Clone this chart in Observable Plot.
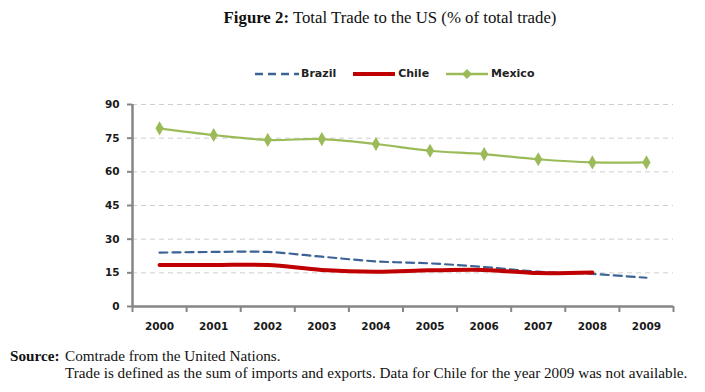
<!DOCTYPE html>
<html>
<head>
<meta charset="utf-8">
<script src="https://cdn.jsdelivr.net/npm/d3@7"></script>
<script src="https://cdn.jsdelivr.net/npm/@observablehq/plot@0.6"></script>
<style>
  html, body { margin: 0; padding: 0; background: #fff; }
  #wrap { position: relative; width: 705px; height: 392px; overflow: hidden; }
  #chart { position: absolute; left: 0; top: 0; }
  .title { position: absolute; left: 0; width: 780px; top: 8px; text-align: center;
           font-family: "Liberation Serif", "Times New Roman", serif; font-size: 16.8px; color: #111; }
  .title b { font-weight: bold; }
  .legend { position: absolute; top: 67px; left: 255px; display: flex; align-items: center;
            font-family: "DejaVu Sans", sans-serif; font-weight: bold; font-size: 11px; color: #222; }
  .legend .item { display: flex; align-items: center; margin-right: 16px; }
  .legend svg { margin-right: 2px; }
  .caption { position: absolute; left: 10px; top: 347px; font-family: "Liberation Serif", "Times New Roman", serif;
             font-size: 15.2px; color: #111; line-height: 17px; }
  .caption .row { display: flex; white-space: nowrap; }
  .caption .lab { width: 55px; font-weight: bold; }
</style>
</head>
<body>
<div id="wrap">
  <div id="chart"></div>
  <div class="title"><b>Figure 2:</b> Total Trade to the US (% of total trade)</div>
  <div class="legend" id="legend"></div>
  <div class="caption">
    <div class="row"><span class="lab">Source:</span><span>Comtrade from the United Nations.</span></div>
    <div class="row"><span class="lab"></span><span>Trade is defined as the sum of imports and exports. Data for Chile for the year 2009 was not available.</span></div>
  </div>
</div>
<script>
const years = [2000, 2001, 2002, 2003, 2004, 2005, 2006, 2007, 2008, 2009];
const brazil = [24.0, 24.3, 24.3, 22.2, 20.1, 19.2, 17.6, 15.5, 14.5, 12.8];
const chile  = [18.5, 18.5, 18.5, 16.3, 15.5, 16.1, 16.3, 14.9, 15.2, null];
const mexico = [79.4, 76.4, 74.2, 74.6, 72.4, 69.4, 67.9, 65.6, 64.2, 64.2];
const yTicks = [0, 15, 30, 45, 60, 75, 90];
const seriesNames = ["Brazil", "Chile", "Mexico"];
const colors = { Brazil: "#3b6395", Chile: "#c00000", Mexico: "#9bbb59" };

const rows = (vals) => years.map((y, i) => ({ year: y, value: vals[i] })).filter(d => d.value != null);
const brazilData = rows(brazil);
const chileData = rows(chile);
const mexicoData = rows(mexico);
const boundaries = d3.range(years[0] - 0.5, years[years.length - 1] + 1, 1);

const axisColor = "#868686";
const tickFont = { fontFamily: "DejaVu Sans, sans-serif", fontWeight: "bold", fontSize: 10.5, fill: "#1a1a1a" };

const chart = Plot.plot({
  width: 705,
  height: 392,
  marginLeft: 132,
  marginRight: 32,
  marginTop: 104,
  marginBottom: 86,
  style: { background: "transparent", overflow: "visible" },
  x: { type: "linear", domain: [years[0] - 0.5, years[years.length - 1] + 0.5], label: null },
  y: { domain: [0, 90], label: null },
  marks: [
    Plot.gridY(yTicks.filter(d => d > 0), { stroke: "#cfcfcf", strokeOpacity: 1, strokeDasharray: "5,4", strokeWidth: 1 }),
    Plot.axisY({ ticks: yTicks, tickSize: 5, tickPadding: 8, stroke: axisColor, strokeWidth: 2, tickFormat: d => String(d), label: null, ...tickFont }),
    Plot.axisX({ ticks: years, tickSize: 0, tickPadding: 16, tickFormat: d => String(d), label: null, ...tickFont }),
    Plot.axisX({ ticks: boundaries, tickSize: 6, tickFormat: () => "", stroke: axisColor, strokeWidth: 2, label: null }),
    Plot.ruleY([0], { stroke: axisColor, strokeWidth: 2.5 }),
    Plot.ruleX([years[0] - 0.5], { stroke: axisColor, strokeWidth: 2.5 }),
    Plot.line(mexicoData, { x: "year", y: "value", stroke: colors.Mexico, strokeWidth: 2.2, curve: "catmull-rom" }),
    Plot.dot(mexicoData, { x: "year", y: "value", symbol: "diamond", fill: colors.Mexico, r: 4.3 }),
    Plot.line(brazilData, { x: "year", y: "value", stroke: colors.Brazil, strokeWidth: 2.2, strokeDasharray: "8,5", curve: "catmull-rom" }),
    Plot.line(chileData, { x: "year", y: "value", stroke: colors.Chile, strokeWidth: 4, curve: "catmull-rom" })
  ]
});
document.getElementById("chart").appendChild(chart);

// Legend
const legend = document.getElementById("legend");
const swatches = {
  Brazil: `<svg width="44" height="10"><line x1="0" y1="5" x2="44" y2="5" stroke="${colors.Brazil}" stroke-width="2.5" stroke-dasharray="8,5"/></svg>`,
  Chile: `<svg width="44" height="10"><line x1="1" y1="5" x2="43" y2="5" stroke="${colors.Chile}" stroke-width="4"/></svg>`,
  Mexico: `<svg width="44" height="12"><line x1="1" y1="6" x2="43" y2="6" stroke="${colors.Mexico}" stroke-width="2.5"/><path d="M22,1 L27,6 L22,11 L17,6 Z" fill="${colors.Mexico}"/></svg>`
};
seriesNames.forEach(name => {
  const item = document.createElement("div");
  item.className = "item";
  item.innerHTML = swatches[name] + `<span>${name}</span>`;
  legend.appendChild(item);
});
</script>
</body>
</html>
